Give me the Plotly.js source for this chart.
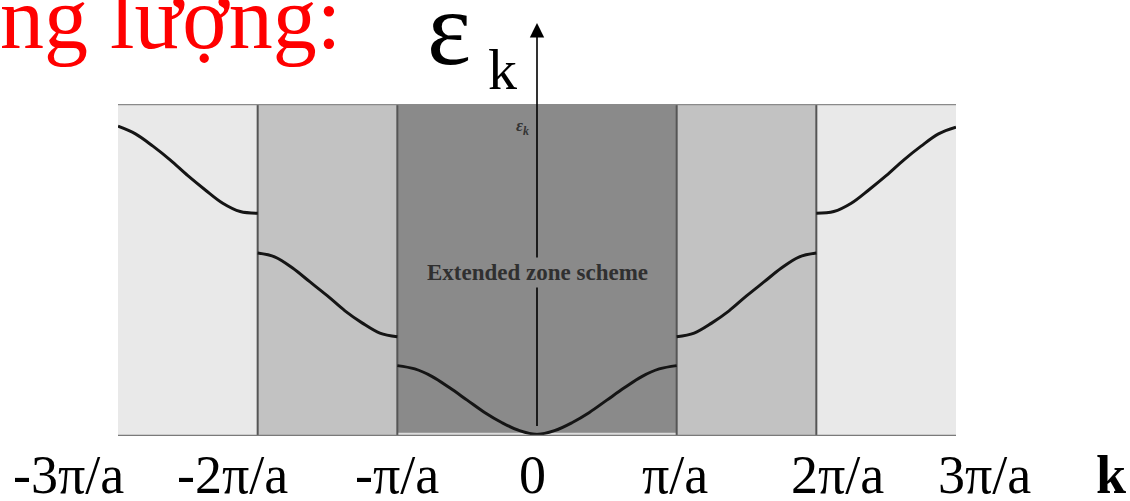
<!DOCTYPE html>
<html>
<head>
<meta charset="utf-8">
<script src="https://cdn.plot.ly/plotly-3.0.1.min.js"></script>
<style>
  html, body { margin: 0; padding: 0; background: #ffffff; }
  #chart { width: 1130px; height: 501px; }
</style>
</head>
<body>
<div id="chart"></div>
<script>
// Wave vector k in units of pi/a, energy in arbitrary units (0..10 = band window)
const kBand1 = [-1, -0.875, -0.75, -0.625, -0.5, -0.375, -0.25, -0.125, 0, 0.125, 0.25, 0.375, 0.5, 0.625, 0.75, 0.875, 1];
const eBand1 = [2.12, 2.02, 1.79, 1.45, 1.08, 0.71, 0.40, 0.16, 0.05, 0.16, 0.40, 0.71, 1.08, 1.45, 1.79, 2.02, 2.12];

const kBand2Left  = [-2, -1.875, -1.75, -1.625, -1.5, -1.375, -1.25, -1.125, -1];
const eBand2Left  = [5.51, 5.39, 5.06, 4.64, 4.22, 3.77, 3.40, 3.10, 2.99];
const kBand2Right = [1, 1.125, 1.25, 1.375, 1.5, 1.625, 1.75, 1.875, 2];
const eBand2Right = [2.99, 3.10, 3.40, 3.77, 4.22, 4.64, 5.06, 5.39, 5.51];

const kBand3Left  = [-3, -2.875, -2.75, -2.625, -2.5, -2.375, -2.25, -2.125, -2];
const eBand3Left  = [9.33, 9.10, 8.73, 8.31, 7.84, 7.41, 7.01, 6.76, 6.71];
const kBand3Right = [2, 2.125, 2.25, 2.375, 2.5, 2.625, 2.75, 2.875, 3];
const eBand3Right = [6.71, 6.76, 7.01, 7.41, 7.84, 8.31, 8.73, 9.10, 9.30];

// Brillouin zone edges (pi/a) and zone labels under the axis
const zoneEdges = [-3, -2, -1, 1, 2, 3];
const tickLabels = ['-3π/a', '-2π/a', '-π/a', '0', 'π/a', '2π/a', '3π/a', '<b>k</b>'];

// layout-only settings
const K_RANGE = [-3, 3];
const E_RANGE = [0, 10];
const labelK = [-3.355, -2.18, -1.0, -0.03, 0.99, 2.15, 3.205, 4.113];
const zoneFill = ['#e9e9e9', '#c2c2c2', '#8a8a8a', '#c2c2c2', '#e9e9e9'];
const curveStyle = { color: '#151515', width: 3, shape: 'spline', smoothing: 1 };
const serif = '"Liberation Serif", "Times New Roman", serif';

// data units -> paper fractions (annotations outside the axis range need paper refs)
const px = k => (k - K_RANGE[0]) / (K_RANGE[1] - K_RANGE[0]);
const py = e => (e - E_RANGE[0]) / (E_RANGE[1] - E_RANGE[0]);

function band(k, e) {
  return { x: k, y: e, type: 'scatter', mode: 'lines', line: curveStyle, hoverinfo: 'skip', showlegend: false };
}

function label(k, e, text, font, extra) {
  return Object.assign({ xref: 'paper', yref: 'paper', x: px(k), y: py(e), xanchor: 'center', yanchor: 'middle',
    showarrow: false, text: text, font: font, borderpad: 0 }, extra || {});
}

const traces = [
  band(kBand3Left, eBand3Left),
  band(kBand2Left, eBand2Left),
  band(kBand1, eBand1),
  band(kBand2Right, eBand2Right),
  band(kBand3Right, eBand3Right)
];

const shapes = [];
// shaded zones
for (let i = 0; i < zoneEdges.length - 1; i++) {
  shapes.push({ type: 'rect', xref: 'x', yref: 'y', x0: zoneEdges[i], x1: zoneEdges[i + 1], y0: 0, y1: 10,
    fillcolor: zoneFill[i], line: { width: 0 }, layer: 'below' });
}
// thin light strip along the bottom of the first zone
shapes.push({ type: 'rect', xref: 'x', yref: 'y', x0: -1, x1: 1, y0: 0, y1: 0.1,
  fillcolor: '#dcdcdc', line: { width: 0 }, layer: 'below' });
// zone boundaries
zoneEdges.slice(1, -1).forEach(function (k) {
  shapes.push({ type: 'line', xref: 'x', yref: 'y', x0: k, x1: k, y0: 0, y1: 10,
    line: { color: '#555555', width: 2 }, layer: 'below' });
});
// top and bottom frame lines
shapes.push({ type: 'line', xref: 'x', yref: 'y', x0: -3, x1: 3, y0: 10, y1: 10, line: { color: '#8a8a8a', width: 2.5 } });
shapes.push({ type: 'line', xref: 'x', yref: 'y', x0: -3, x1: 3, y0: 0, y1: 0, line: { color: '#7a7a7a', width: 2.5 } });

const annotations = [];
// energy axis with arrow, tail on the k axis
annotations.push({ xref: 'paper', yref: 'paper', x: px(0), y: py(12.44), axref: 'pixel', ayref: 'pixel', ax: 0, ay: 413,
  showarrow: true, arrowhead: 2, arrowsize: 1.8, arrowwidth: 1.6, arrowcolor: '#000000', text: ' ' });
// caption inside the central zone (its background breaks the axis line)
annotations.push(label(0, 4.92, '<b>Extended zone scheme</b>', { family: serif, size: 23, color: '#303030' },
  { bgcolor: zoneFill[2], borderpad: 2 }));
// small energy label
annotations.push(label(-0.107, 9.31, '<b><i>ε<sub>k</sub></i></b>', { family: serif, size: 17, color: '#333333' }));
// big energy label
annotations.push(label(-0.63, 12.27, 'ε', { family: serif, size: 105, color: '#000000' }));
annotations.push(label(-0.25, 11.04, 'k', { family: serif, size: 58, color: '#000000' }));
// heading fragment
annotations.push(label(-3.85, 12.58, 'ng lượng:', { family: serif, size: 88, color: '#ff0000' }, { xanchor: 'left' }));
// k-axis labels
tickLabels.forEach(function (t, i) {
  annotations.push(label(labelK[i], -1.17, t, { family: serif, size: 54, color: '#000000' }));
});

const layout = {
  width: 1130, height: 501,
  margin: { l: 118, r: 174, t: 104, b: 65, pad: 0 },
  paper_bgcolor: '#ffffff', plot_bgcolor: '#ffffff',
  xaxis: { range: K_RANGE, visible: false, fixedrange: true },
  yaxis: { range: E_RANGE, visible: false, fixedrange: true },
  shapes: shapes,
  annotations: annotations,
  showlegend: false
};

Plotly.newPlot('chart', traces, layout, { staticPlot: true, displayModeBar: false });
</script>
</body>
</html>
